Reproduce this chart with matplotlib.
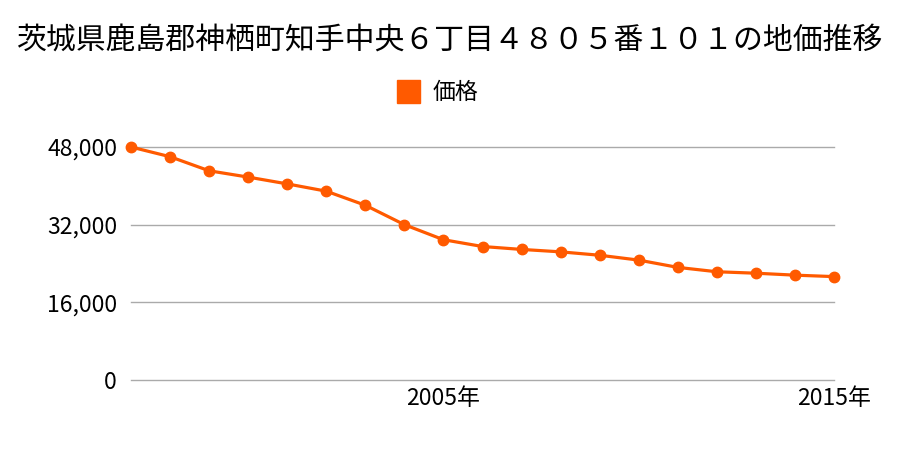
import matplotlib
matplotlib.use("Agg")
import matplotlib.pyplot as plt
from matplotlib.patches import Rectangle

plt.rcParams['font.family'] = ['Noto Sans CJK JP', 'DejaVu Sans']

# 年ごとの地価（円/m2）
years = list(range(1997, 2016))
prices = [48000, 46000, 43100, 41800, 40400, 38900, 36000, 32000, 28900, 27500,
          26900, 26400, 25700, 24700, 23200, 22300, 22000, 21600, 21300]
yticks = [0, 16000, 32000, 48000]
xticks = [2005, 2015]
xticklabels = ["2005年", "2015年"]
title = "茨城県鹿島郡神栖町知手中央６丁目４８０５番１０１の地価推移"
series_name = "価格"

color = "#ff5a00"

fig = plt.figure(figsize=(9, 4.5), dpi=100)
ax = fig.add_axes([131 / 900, 1 - 380 / 450, (834 - 131) / 900, (380 - 147) / 450])

ax.plot(years, prices, color=color, lw=2.3, marker="o", ms=7.5, clip_on=False, zorder=3)

ax.set_xlim(1997, 2015)
ax.set_ylim(0, 48000)
ax.set_yticks(yticks)
ax.set_yticklabels([f"{v:,}" for v in yticks], fontsize=16.5)
ax.set_xticks(xticks)
ax.set_xticklabels(xticklabels, fontsize=16.5)
ax.tick_params(length=0, pad=5)
ax.tick_params(axis="y", pad=10)
ax.grid(axis="y", color="#aaaaaa", lw=1)
for gl in ax.get_ygridlines():
    gl.set_clip_on(False)
ax.set_axisbelow(True)
for s in ax.spines.values():
    s.set_visible(False)

fig.text(0.5, 1 - 40 / 450, title, ha="center", va="center", fontsize=21.5)

# 凡例
fig.patches.append(Rectangle((397 / 900, 1 - 103 / 450), 23 / 900, 23 / 450,
                             transform=fig.transFigure, color=color))
fig.text(433 / 900, 1 - 92 / 450, series_name, ha="left", va="center", fontsize=16.5)

fig.savefig("out.png", dpi=100)
